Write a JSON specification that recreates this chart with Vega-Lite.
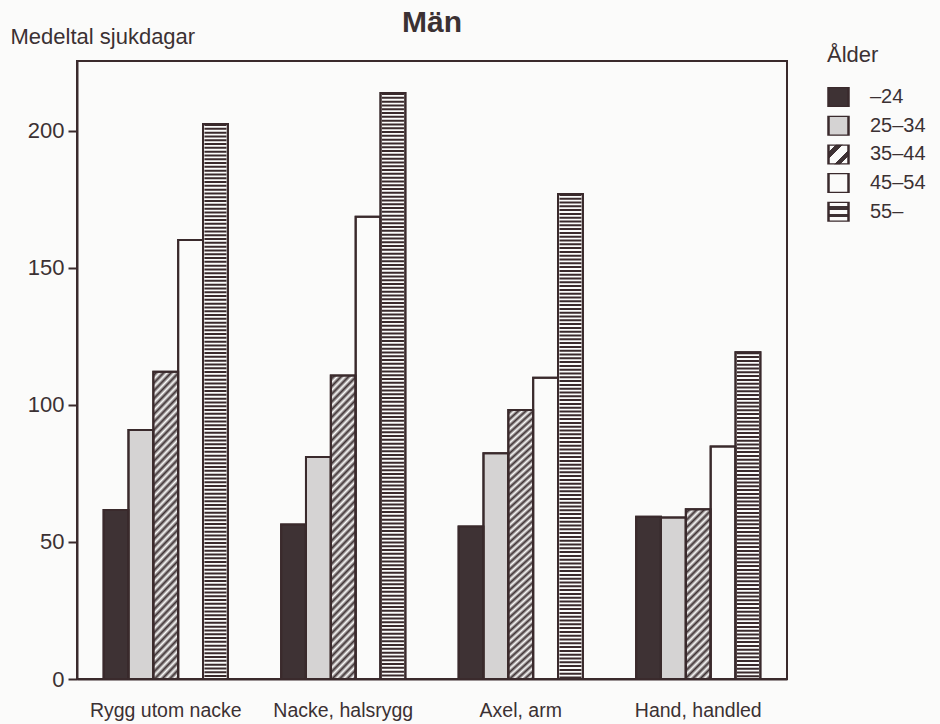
{
"$schema": "https://vega.github.io/schema/vega-lite/v6.json",
"width": 710,
"height": 618,
"autosize": {"type": "none"},
"padding": {"left": 77, "top": 61, "right": 153, "bottom": 45},
"background": "#fbfbfa",
"title": {"text": "Män", "fontSize": 30, "fontWeight": "bold", "font": "Liberation Sans", "color": "#3b3133", "anchor": "middle", "frame": "group", "baseline": "alphabetic", "offset": -37},
"config": {"view": {"stroke": "#3a2a2c", "strokeWidth": 2}, "font": "Liberation Sans"},
"data": {"values": [
{"cat": "Rygg utom nacke", "age": "–24", "value": 61.7},
{"cat": "Rygg utom nacke", "age": "25–34", "value": 90.9},
{"cat": "Rygg utom nacke", "age": "35–44", "value": 112.1},
{"cat": "Rygg utom nacke", "age": "45–54", "value": 160.2},
{"cat": "Rygg utom nacke", "age": "55–", "value": 202.5},
{"cat": "Nacke, halsrygg", "age": "–24", "value": 56.4},
{"cat": "Nacke, halsrygg", "age": "25–34", "value": 81},
{"cat": "Nacke, halsrygg", "age": "35–44", "value": 110.7},
{"cat": "Nacke, halsrygg", "age": "45–54", "value": 168.7},
{"cat": "Nacke, halsrygg", "age": "55–", "value": 213.8},
{"cat": "Axel, arm", "age": "–24", "value": 55.6},
{"cat": "Axel, arm", "age": "25–34", "value": 82.4},
{"cat": "Axel, arm", "age": "35–44", "value": 98.2},
{"cat": "Axel, arm", "age": "45–54", "value": 109.9},
{"cat": "Axel, arm", "age": "55–", "value": 177},
{"cat": "Hand, handled", "age": "–24", "value": 59.2},
{"cat": "Hand, handled", "age": "25–34", "value": 58.9},
{"cat": "Hand, handled", "age": "35–44", "value": 61.9},
{"cat": "Hand, handled", "age": "45–54", "value": 84.8},
{"cat": "Hand, handled", "age": "55–", "value": 119.2}
]},
"encoding": {
"x": {"field": "cat", "type": "nominal", "sort": ["Rygg utom nacke", "Nacke, halsrygg", "Axel, arm", "Hand, handled"], "scale": {"paddingInner": 0.3, "paddingOuter": 0.15}, "axis": {"title": null, "ticks": false, "labelAngle": 0, "labelPadding": 22, "labelFontSize": 19.5, "labelColor": "#3b3133", "domainColor": "#3a2a2c", "domainWidth": 2}},
"xOffset": {"field": "age", "type": "nominal", "sort": ["–24", "25–34", "35–44", "45–54", "55–"], "scale": {"paddingInner": 0, "paddingOuter": 0}},
"y": {"field": "value", "type": "quantitative", "scale": {"domain": [0, 225.5], "nice": false}, "axis": {"values": [0, 50, 100, 150, 200], "grid": false, "tickSize": 9, "tickWidth": 2, "tickColor": "#3a2a2c", "domainColor": "#3a2a2c", "domainWidth": 2, "labelFontSize": 22, "labelPadding": 4, "labelColor": "#3b3133", "title": "Medeltal sjukdagar", "titleAngle": 0, "titleAlign": "left", "titleBaseline": "alphabetic", "titleX": -67, "titleY": -18, "titleFontSize": 22, "titleFontWeight": "normal", "titleColor": "#3b3133"}}
},
"layer": [
{"mark": {"type": "bar", "stroke": "#3a2a2c", "strokeWidth": 2},
 "encoding": {"fill": {
  "condition": [
   {"test": "datum.age === '55–'", "value": "#fbfbfa"},
   {"test": "datum.age === '35–44' && datum.cat === 'Hand, handled'", "value": {"gradient": "linear", "x1": 0, "y1": 0, "x2": 0.3172, "y2": 2.1646, "stops": [
{"offset":0,"color":"#fbfbfa"},{"offset":0.01,"color":"#3e3234"},{"offset":0.02,"color":"#fbfbfa"},{"offset":0.03,"color":"#3e3234"},{"offset":0.04,"color":"#fbfbfa"},{"offset":0.05,"color":"#3e3234"},{"offset":0.06,"color":"#fbfbfa"},{"offset":0.07,"color":"#3e3234"},{"offset":0.08,"color":"#fbfbfa"},{"offset":0.09,"color":"#3e3234"},
{"offset":0.1,"color":"#fbfbfa"},{"offset":0.11,"color":"#3e3234"},{"offset":0.12,"color":"#fbfbfa"},{"offset":0.13,"color":"#3e3234"},{"offset":0.14,"color":"#fbfbfa"},{"offset":0.15,"color":"#3e3234"},{"offset":0.16,"color":"#fbfbfa"},{"offset":0.17,"color":"#3e3234"},{"offset":0.18,"color":"#fbfbfa"},{"offset":0.19,"color":"#3e3234"},
{"offset":0.2,"color":"#fbfbfa"},{"offset":0.21,"color":"#3e3234"},{"offset":0.22,"color":"#fbfbfa"},{"offset":0.23,"color":"#3e3234"},{"offset":0.24,"color":"#fbfbfa"},{"offset":0.25,"color":"#3e3234"},{"offset":0.26,"color":"#fbfbfa"},{"offset":0.27,"color":"#3e3234"},{"offset":0.28,"color":"#fbfbfa"},{"offset":0.29,"color":"#3e3234"},
{"offset":0.3,"color":"#fbfbfa"},{"offset":0.31,"color":"#3e3234"},{"offset":0.32,"color":"#fbfbfa"},{"offset":0.33,"color":"#3e3234"},{"offset":0.34,"color":"#fbfbfa"},{"offset":0.35,"color":"#3e3234"},{"offset":0.36,"color":"#fbfbfa"},{"offset":0.37,"color":"#3e3234"},{"offset":0.38,"color":"#fbfbfa"},{"offset":0.39,"color":"#3e3234"},
{"offset":0.4,"color":"#fbfbfa"},{"offset":0.41,"color":"#3e3234"},{"offset":0.42,"color":"#fbfbfa"},{"offset":0.43,"color":"#3e3234"},{"offset":0.44,"color":"#fbfbfa"},{"offset":0.45,"color":"#3e3234"},{"offset":0.46,"color":"#fbfbfa"},{"offset":0.47,"color":"#3e3234"},{"offset":0.48,"color":"#fbfbfa"},{"offset":0.49,"color":"#3e3234"},
{"offset":0.5,"color":"#fbfbfa"},{"offset":0.51,"color":"#3e3234"},{"offset":0.52,"color":"#fbfbfa"},{"offset":0.53,"color":"#3e3234"},{"offset":0.54,"color":"#fbfbfa"},{"offset":0.55,"color":"#3e3234"},{"offset":0.56,"color":"#fbfbfa"},{"offset":0.57,"color":"#3e3234"},{"offset":0.58,"color":"#fbfbfa"},{"offset":0.59,"color":"#3e3234"},
{"offset":0.6,"color":"#fbfbfa"},{"offset":0.61,"color":"#3e3234"},{"offset":0.62,"color":"#fbfbfa"},{"offset":0.63,"color":"#3e3234"},{"offset":0.64,"color":"#fbfbfa"},{"offset":0.65,"color":"#3e3234"},{"offset":0.66,"color":"#fbfbfa"},{"offset":0.67,"color":"#3e3234"},{"offset":0.68,"color":"#fbfbfa"},{"offset":0.69,"color":"#3e3234"},
{"offset":0.7,"color":"#fbfbfa"},{"offset":0.71,"color":"#3e3234"},{"offset":0.72,"color":"#fbfbfa"},{"offset":0.73,"color":"#3e3234"},{"offset":0.74,"color":"#fbfbfa"},{"offset":0.75,"color":"#3e3234"},{"offset":0.76,"color":"#fbfbfa"},{"offset":0.77,"color":"#3e3234"},{"offset":0.78,"color":"#fbfbfa"},{"offset":0.79,"color":"#3e3234"},
{"offset":0.8,"color":"#fbfbfa"},{"offset":0.81,"color":"#3e3234"},{"offset":0.82,"color":"#fbfbfa"},{"offset":0.83,"color":"#3e3234"},{"offset":0.84,"color":"#fbfbfa"},{"offset":0.85,"color":"#3e3234"},{"offset":0.86,"color":"#fbfbfa"},{"offset":0.87,"color":"#3e3234"},{"offset":0.88,"color":"#fbfbfa"},{"offset":0.89,"color":"#3e3234"},
{"offset":0.9,"color":"#fbfbfa"},{"offset":0.91,"color":"#3e3234"},{"offset":0.92,"color":"#fbfbfa"},{"offset":0.93,"color":"#3e3234"},{"offset":0.94,"color":"#fbfbfa"},{"offset":0.95,"color":"#3e3234"},{"offset":0.96,"color":"#fbfbfa"},{"offset":0.97,"color":"#3e3234"},{"offset":0.98,"color":"#fbfbfa"},{"offset":0.99,"color":"#3e3234"},
{"offset":1,"color":"#fbfbfa"}]}},
   {"test": "datum.age === '35–44'", "value": {"gradient": "linear", "x1": 0, "y1": 0, "x2": 0.1063, "y2": 1.2622, "stops": [
{"offset":0,"color":"#fbfbfa"},{"offset":0.01,"color":"#3e3234"},{"offset":0.02,"color":"#fbfbfa"},{"offset":0.03,"color":"#3e3234"},{"offset":0.04,"color":"#fbfbfa"},{"offset":0.05,"color":"#3e3234"},{"offset":0.06,"color":"#fbfbfa"},{"offset":0.07,"color":"#3e3234"},{"offset":0.08,"color":"#fbfbfa"},{"offset":0.09,"color":"#3e3234"},
{"offset":0.1,"color":"#fbfbfa"},{"offset":0.11,"color":"#3e3234"},{"offset":0.12,"color":"#fbfbfa"},{"offset":0.13,"color":"#3e3234"},{"offset":0.14,"color":"#fbfbfa"},{"offset":0.15,"color":"#3e3234"},{"offset":0.16,"color":"#fbfbfa"},{"offset":0.17,"color":"#3e3234"},{"offset":0.18,"color":"#fbfbfa"},{"offset":0.19,"color":"#3e3234"},
{"offset":0.2,"color":"#fbfbfa"},{"offset":0.21,"color":"#3e3234"},{"offset":0.22,"color":"#fbfbfa"},{"offset":0.23,"color":"#3e3234"},{"offset":0.24,"color":"#fbfbfa"},{"offset":0.25,"color":"#3e3234"},{"offset":0.26,"color":"#fbfbfa"},{"offset":0.27,"color":"#3e3234"},{"offset":0.28,"color":"#fbfbfa"},{"offset":0.29,"color":"#3e3234"},
{"offset":0.3,"color":"#fbfbfa"},{"offset":0.31,"color":"#3e3234"},{"offset":0.32,"color":"#fbfbfa"},{"offset":0.33,"color":"#3e3234"},{"offset":0.34,"color":"#fbfbfa"},{"offset":0.35,"color":"#3e3234"},{"offset":0.36,"color":"#fbfbfa"},{"offset":0.37,"color":"#3e3234"},{"offset":0.38,"color":"#fbfbfa"},{"offset":0.39,"color":"#3e3234"},
{"offset":0.4,"color":"#fbfbfa"},{"offset":0.41,"color":"#3e3234"},{"offset":0.42,"color":"#fbfbfa"},{"offset":0.43,"color":"#3e3234"},{"offset":0.44,"color":"#fbfbfa"},{"offset":0.45,"color":"#3e3234"},{"offset":0.46,"color":"#fbfbfa"},{"offset":0.47,"color":"#3e3234"},{"offset":0.48,"color":"#fbfbfa"},{"offset":0.49,"color":"#3e3234"},
{"offset":0.5,"color":"#fbfbfa"},{"offset":0.51,"color":"#3e3234"},{"offset":0.52,"color":"#fbfbfa"},{"offset":0.53,"color":"#3e3234"},{"offset":0.54,"color":"#fbfbfa"},{"offset":0.55,"color":"#3e3234"},{"offset":0.56,"color":"#fbfbfa"},{"offset":0.57,"color":"#3e3234"},{"offset":0.58,"color":"#fbfbfa"},{"offset":0.59,"color":"#3e3234"},
{"offset":0.6,"color":"#fbfbfa"},{"offset":0.61,"color":"#3e3234"},{"offset":0.62,"color":"#fbfbfa"},{"offset":0.63,"color":"#3e3234"},{"offset":0.64,"color":"#fbfbfa"},{"offset":0.65,"color":"#3e3234"},{"offset":0.66,"color":"#fbfbfa"},{"offset":0.67,"color":"#3e3234"},{"offset":0.68,"color":"#fbfbfa"},{"offset":0.69,"color":"#3e3234"},
{"offset":0.7,"color":"#fbfbfa"},{"offset":0.71,"color":"#3e3234"},{"offset":0.72,"color":"#fbfbfa"},{"offset":0.73,"color":"#3e3234"},{"offset":0.74,"color":"#fbfbfa"},{"offset":0.75,"color":"#3e3234"},{"offset":0.76,"color":"#fbfbfa"},{"offset":0.77,"color":"#3e3234"},{"offset":0.78,"color":"#fbfbfa"},{"offset":0.79,"color":"#3e3234"},
{"offset":0.8,"color":"#fbfbfa"},{"offset":0.81,"color":"#3e3234"},{"offset":0.82,"color":"#fbfbfa"},{"offset":0.83,"color":"#3e3234"},{"offset":0.84,"color":"#fbfbfa"},{"offset":0.85,"color":"#3e3234"},{"offset":0.86,"color":"#fbfbfa"},{"offset":0.87,"color":"#3e3234"},{"offset":0.88,"color":"#fbfbfa"},{"offset":0.89,"color":"#3e3234"},
{"offset":0.9,"color":"#fbfbfa"},{"offset":0.91,"color":"#3e3234"},{"offset":0.92,"color":"#fbfbfa"},{"offset":0.93,"color":"#3e3234"},{"offset":0.94,"color":"#fbfbfa"},{"offset":0.95,"color":"#3e3234"},{"offset":0.96,"color":"#fbfbfa"},{"offset":0.97,"color":"#3e3234"},{"offset":0.98,"color":"#fbfbfa"},{"offset":0.99,"color":"#3e3234"},
{"offset":1,"color":"#fbfbfa"}]}}
  ],
  "field": "age", "type": "nominal",
  "scale": {"domain": ["–24", "25–34", "35–44", "45–54", "55–"], "range": [
    "#3e3234",
    "#d5d3d3",
    {"expr": "{gradient: 'linear', x1: 0, y1: 0, x2: 1, y2: 1, stops: [{offset: 0, color: '#fbfbfa'}, {offset: 0.2, color: '#fbfbfa'}, {offset: 0.2, color: '#3e3234'}, {offset: 0.36, color: '#3e3234'}, {offset: 0.36, color: '#fbfbfa'}, {offset: 0.64, color: '#fbfbfa'}, {offset: 0.64, color: '#3e3234'}, {offset: 0.8, color: '#3e3234'}, {offset: 0.8, color: '#fbfbfa'}, {offset: 1, color: '#fbfbfa'}]}"},
    "#fbfbfa",
    {"expr": "{gradient: 'linear', x1: 0, y1: 0, x2: 0, y2: 1, stops: [{offset: 0, color: '#fbfbfa'}, {offset: 0.22, color: '#fbfbfa'}, {offset: 0.22, color: '#3e3234'}, {offset: 0.39, color: '#3e3234'}, {offset: 0.39, color: '#fbfbfa'}, {offset: 0.61, color: '#fbfbfa'}, {offset: 0.61, color: '#3e3234'}, {offset: 0.78, color: '#3e3234'}, {offset: 0.78, color: '#fbfbfa'}, {offset: 1, color: '#fbfbfa'}]}"}
  ]},
  "legend": {"orient": "none", "legendX": 750, "legendY": -16, "title": "Ålder", "titleFontSize": 22, "titleFontWeight": "normal", "titleColor": "#3b3133", "titlePadding": 20, "labelFontSize": 20, "labelColor": "#3b3133", "symbolType": "square", "symbolSize": 400, "symbolStrokeColor": "#3a2a2c", "symbolStrokeWidth": 2.5, "symbolOpacity": 1, "clipHeight": 20, "rowPadding": 8.7, "labelOffset": 20, "padding": 0}
 }}},
{"transform": [{"filter": "datum.age === '55–'"}],
 "mark": {"type": "rule", "color": "#3a2a2c", "strokeWidth": 22, "strokeDash": [2, 1.8]},
 "encoding": {"y2": {"datum": 0}}},
{"mark": {"type": "bar", "fill": "transparent", "stroke": "#3a2a2c", "strokeWidth": 2}}
]
}
